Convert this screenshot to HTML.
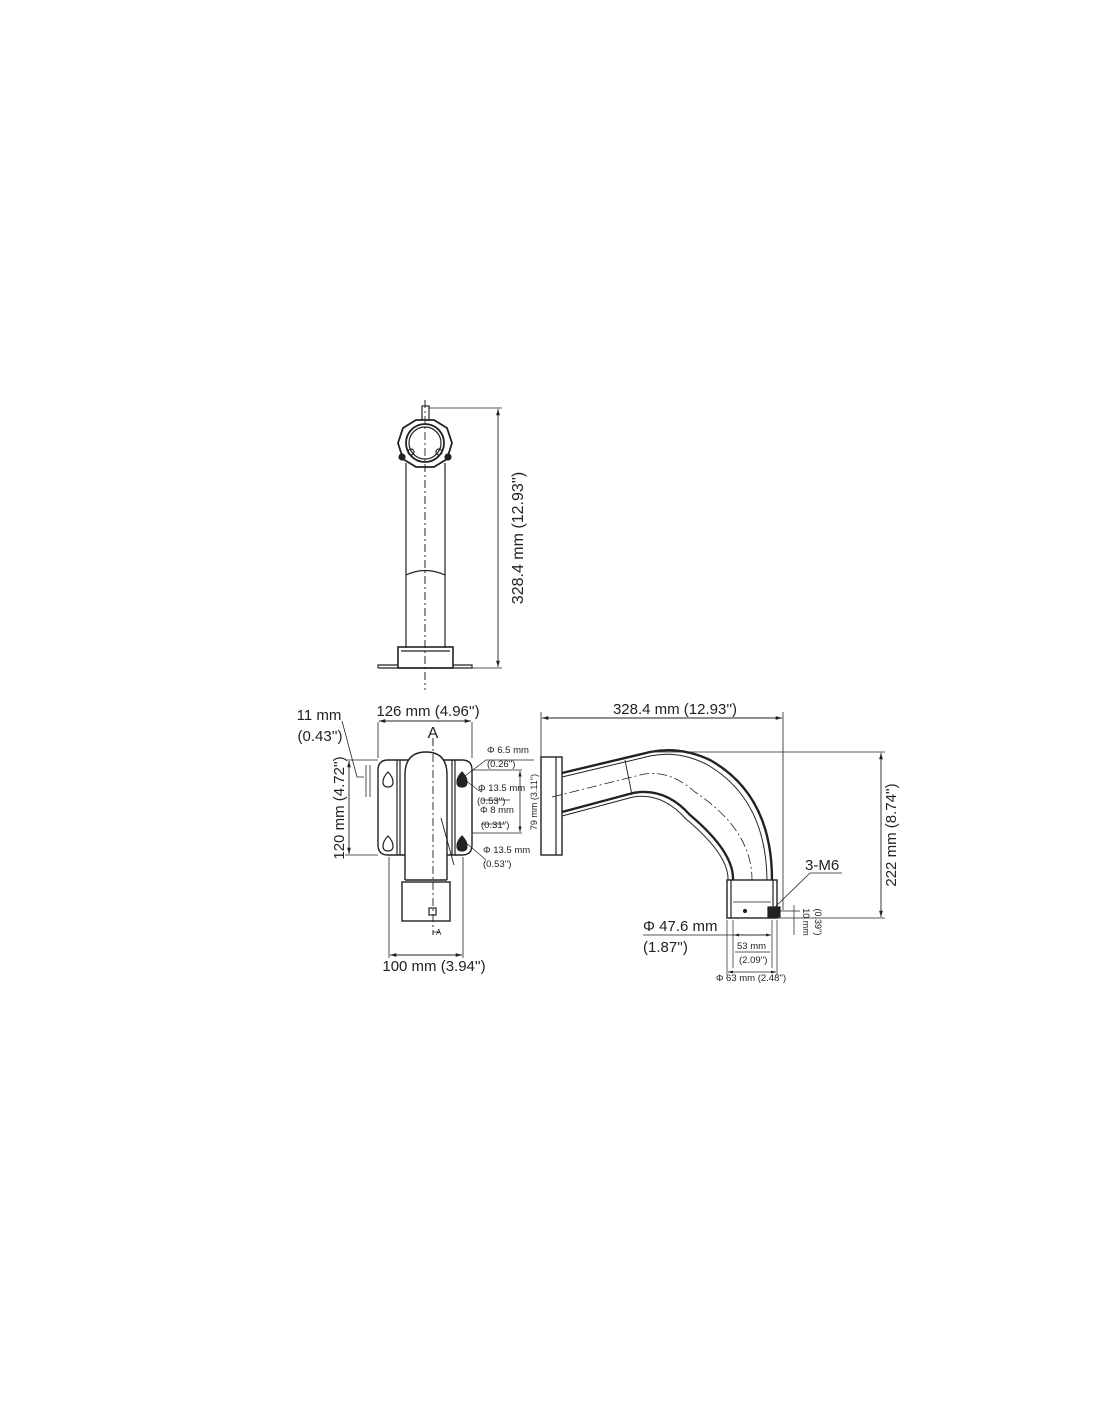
<!DOCTYPE html>
<html><head><meta charset="utf-8"><style>
html,body{margin:0;padding:0;background:#fff;}
svg{display:block;font-family:"Liberation Sans",sans-serif;}
</style></head><body>
<svg width="1100" height="1422" viewBox="0 0 1100 1422" xmlns="http://www.w3.org/2000/svg">
<defs>
<marker id="ar" viewBox="0 0 10 10" refX="10" refY="5" markerWidth="7" markerHeight="7" orient="auto-start-reverse"><path d="M0,2 L10,5 L0,8 z" fill="#222"/></marker>
</defs>
<g stroke="#222" fill="none" stroke-width="1.2">
<!-- TOP VIEW -->
<line x1="425" y1="400" x2="425" y2="690" stroke-dasharray="8,3,2,3" stroke-width="0.9"/>
<rect x="422" y="406" width="7" height="14" fill="#fff"/>
<polygon points="416,420 434,420 447,428 452,443 447,459 434,467 416,467 403,459 398,443 403,428" fill="#fff" stroke-width="1.8"/>
<circle cx="425" cy="443" r="19" stroke-width="1.8"/>
<circle cx="425" cy="443" r="16"/>
<circle cx="411" cy="452" r="3"/><circle cx="439" cy="452" r="3"/>
<line x1="425" y1="400" x2="425" y2="690" stroke-dasharray="8,3,2,3" stroke-width="0.9"/>
<circle cx="402" cy="457" r="3" fill="#222"/><circle cx="448" cy="457" r="3" fill="#222"/>
<line x1="406" y1="463" x2="406" y2="648"/><line x1="445" y1="463" x2="445" y2="648"/>
<path d="M406,575 Q425,566 445,575"/>
<rect x="398" y="647" width="55" height="21" stroke-width="1.6"/>
<line x1="401" y1="651" x2="450" y2="651"/>
<path d="M378,668 L378,665 L398,665 M453,665 L472,665 L472,668 L378,668"/>
<line x1="429" y1="408" x2="502" y2="408" stroke-width="0.8"/>
<line x1="472" y1="668" x2="502" y2="668" stroke-width="0.8"/>
<line x1="498" y1="409" x2="498" y2="667" marker-start="url(#ar)" marker-end="url(#ar)" stroke-width="0.9"/>

<!-- FRONT VIEW -->
<line x1="433" y1="738" x2="433" y2="935" stroke-dasharray="8,3,2,3" stroke-width="0.9"/>
<path d="M378,770 Q378,760 388,760 L462,760 Q472,760 472,770 L472,845 Q472,855 462,855 L388,855 Q378,855 378,845 Z" stroke-width="1.4"/>
<line x1="397" y1="760" x2="397" y2="855"/><line x1="400" y1="760" x2="400" y2="855"/>
<line x1="452" y1="760" x2="452" y2="855"/><line x1="455" y1="760" x2="455" y2="855"/>
<path d="M405,880 L405,775 Q405,752 426,752 Q447,752 447,775 L447,880" fill="#fff" stroke-width="1.4"/>
<line x1="405" y1="880" x2="447" y2="880" stroke-width="1.4"/>
<rect x="402" y="882" width="48" height="39" fill="#fff" stroke-width="1.4"/>
<rect x="429" y="908" width="7" height="7"/>
<line x1="433" y1="738" x2="433" y2="935" stroke-dasharray="8,3,2,3" stroke-width="0.9"/>
<line x1="441" y1="818" x2="454" y2="865" stroke-width="0.9"/>
<path d="M388,772 q-5,5 -5,10 q0,5 5,5 q5,0 5,-5 q0,-5 -5,-10z"/>
<path d="M388,836 q-5,5 -5,10 q0,5 5,5 q5,0 5,-5 q0,-5 -5,-10z"/>
<path d="M462,772 q-5,5 -5,10 q0,5 5,5 q5,0 5,-5 q0,-5 -5,-10z" fill="#222"/>
<path d="M462,836 q-5,5 -5,10 q0,5 5,5 q5,0 5,-5 q0,-5 -5,-10z" fill="#222"/>
<line x1="378" y1="758" x2="378" y2="722" stroke-width="0.8"/><line x1="472" y1="758" x2="472" y2="722" stroke-width="0.8"/>
<line x1="379" y1="721" x2="471" y2="721" marker-start="url(#ar)" marker-end="url(#ar)" stroke-width="0.9"/>
<line x1="345" y1="760" x2="378" y2="760" stroke-width="0.8"/><line x1="345" y1="855" x2="378" y2="855" stroke-width="0.8"/>
<line x1="349" y1="761" x2="349" y2="854" marker-start="url(#ar)" marker-end="url(#ar)" stroke-width="0.9"/>
<path d="M342,721 L357,777 L364,777" stroke-width="0.8"/>
<line x1="366" y1="765" x2="366" y2="797" stroke-width="0.8"/><line x1="370" y1="765" x2="370" y2="797" stroke-width="0.8"/>
<line x1="389" y1="857" x2="389" y2="958" stroke-width="0.8"/><line x1="463" y1="857" x2="463" y2="958" stroke-width="0.8"/>
<line x1="390" y1="955" x2="462" y2="955" marker-start="url(#ar)" marker-end="url(#ar)" stroke-width="0.9"/>
<path d="M433,932 L440,932" stroke-width="0.8"/>
<path d="M465,776 L486,760 L534,760" stroke-width="0.7"/>
<path d="M465,780 L478,790 L482,792" stroke-width="0.7"/>
<path d="M465,842 L478,853 L486,860" stroke-width="0.7"/>
<line x1="482" y1="800" x2="510" y2="800" stroke-width="0.7"/>
<line x1="481" y1="824" x2="505" y2="824" stroke-width="0.7"/>
<line x1="472" y1="770" x2="522" y2="770" stroke-width="0.7"/><line x1="472" y1="833" x2="522" y2="833" stroke-width="0.7"/>
<line x1="520" y1="771" x2="520" y2="832" marker-start="url(#ar)" marker-end="url(#ar)" stroke-width="0.8"/>

<!-- SIDE VIEW -->
<line x1="541" y1="712" x2="541" y2="757" stroke-width="0.8"/><line x1="783" y1="712" x2="783" y2="910" stroke-width="0.8"/>
<line x1="542" y1="718" x2="782" y2="718" marker-start="url(#ar)" marker-end="url(#ar)" stroke-width="0.9"/>
<rect x="541" y="757" width="21" height="98" stroke-width="1.4"/>
<line x1="556" y1="757" x2="556" y2="855"/>
<path d="M562,773 L650,752 Q680,746 710,760 Q772,795 772,880" stroke-width="2.4"/>
<path d="M562,777 L650,756 Q678,750 706,764 Q766,798 767,880" stroke-width="1"/>
<path d="M562,812 L633,793 Q665,787 690,815 Q734,852 733,880" stroke-width="2.4"/>
<path d="M562,816 L633,797 Q662,792 686,819 Q729,855 728,880" stroke-width="1"/>
<path d="M552,797 L640,775 Q668,768 695,792 Q752,830 752,880" stroke-dasharray="10,3,2,3" stroke-width="0.8"/>
<line x1="625" y1="760" x2="632" y2="795" stroke-width="0.9"/>
<rect x="727" y="880" width="50" height="38" stroke-width="1.4"/>
<line x1="731" y1="880" x2="731" y2="918"/><line x1="773" y1="880" x2="773" y2="918"/>
<line x1="733" y1="902" x2="771" y2="902" stroke-width="0.8"/>
<rect x="768" y="907" width="12" height="10" fill="#222"/>
<circle cx="745" cy="911" r="1.5" fill="#222"/>
<line x1="650" y1="752" x2="885" y2="752" stroke-width="0.8"/><line x1="777" y1="918" x2="885" y2="918" stroke-width="0.8"/>
<line x1="881" y1="753" x2="881" y2="917" marker-start="url(#ar)" marker-end="url(#ar)" stroke-width="0.9"/>
<path d="M772,910 L810,873 L842,873" stroke-width="0.8"/>
<line x1="780" y1="911" x2="800" y2="911" stroke-width="0.7"/>
<line x1="794" y1="905" x2="794" y2="935" stroke-width="0.7"/>
<line x1="643" y1="935" x2="770" y2="935" stroke-width="0.8"/>
<line x1="733" y1="920" x2="733" y2="968" stroke-width="0.7"/><line x1="772" y1="920" x2="772" y2="968" stroke-width="0.7"/>
<line x1="727" y1="920" x2="727" y2="975" stroke-width="0.7"/><line x1="777" y1="920" x2="777" y2="975" stroke-width="0.7"/>
<line x1="734" y1="935" x2="771" y2="935" marker-start="url(#ar)" marker-end="url(#ar)" stroke-width="0.7"/>
<line x1="728" y1="972" x2="776" y2="972" marker-start="url(#ar)" marker-end="url(#ar)" stroke-width="0.7"/>
<line x1="735" y1="952" x2="770" y2="952" stroke-width="0.7"/>
</g>

<g fill="#222">
<text transform="translate(523,538) rotate(-90)" font-size="16" text-anchor="middle">328.4 mm (12.93'')</text>
<text x="428" y="716" font-size="15" text-anchor="middle">126 mm (4.96'')</text>
<text x="433" y="738" font-size="16" text-anchor="middle">A</text>
<text x="436" y="935" font-size="8">A</text>
<text x="319" y="720" font-size="15" text-anchor="middle">11 mm</text>
<text x="320" y="741" font-size="15" text-anchor="middle">(0.43'')</text>
<text transform="translate(344,808) rotate(-90)" font-size="15" text-anchor="middle">120 mm (4.72'')</text>
<text x="434" y="971" font-size="15" text-anchor="middle">100 mm (3.94'')</text>
<text x="487" y="753" font-size="9.5">Φ 6.5 mm</text>
<text x="487" y="767" font-size="9.5">(0.26'')</text>
<text x="478" y="791" font-size="9.5">Φ 13.5 mm</text>
<text x="477" y="804" font-size="9.5">(0.53'')</text>
<text x="480" y="813" font-size="9.5">Φ 8 mm</text>
<text x="481" y="828" font-size="9.5">(0.31'')</text>
<text x="483" y="853" font-size="9.5">Φ 13.5 mm</text>
<text x="483" y="867" font-size="9.5">(0.53'')</text>
<text transform="translate(537,802) rotate(-90)" font-size="9" text-anchor="middle">79 mm (3.11'')</text>
<text x="675" y="714" font-size="15" text-anchor="middle">328.4 mm (12.93'')</text>
<text transform="translate(896,835) rotate(-90)" font-size="15" text-anchor="middle">222 mm (8.74'')</text>
<text x="805" y="870" font-size="15">3-M6</text>
<text x="643" y="931" font-size="15">Φ 47.6 mm</text>
<text x="643" y="952" font-size="15">(1.87'')</text>
<text x="737" y="949" font-size="9.5">53 mm</text>
<text x="739" y="963" font-size="9.5">(2.09'')</text>
<text x="751" y="981" font-size="9.5" text-anchor="middle">Φ 63 mm (2.48'')</text>
<text transform="translate(803,922) rotate(90)" font-size="9" text-anchor="middle">10 mm</text>
<text transform="translate(815,922) rotate(90)" font-size="9" text-anchor="middle">(0.39'')</text>
</g>
</svg>
</body></html>
